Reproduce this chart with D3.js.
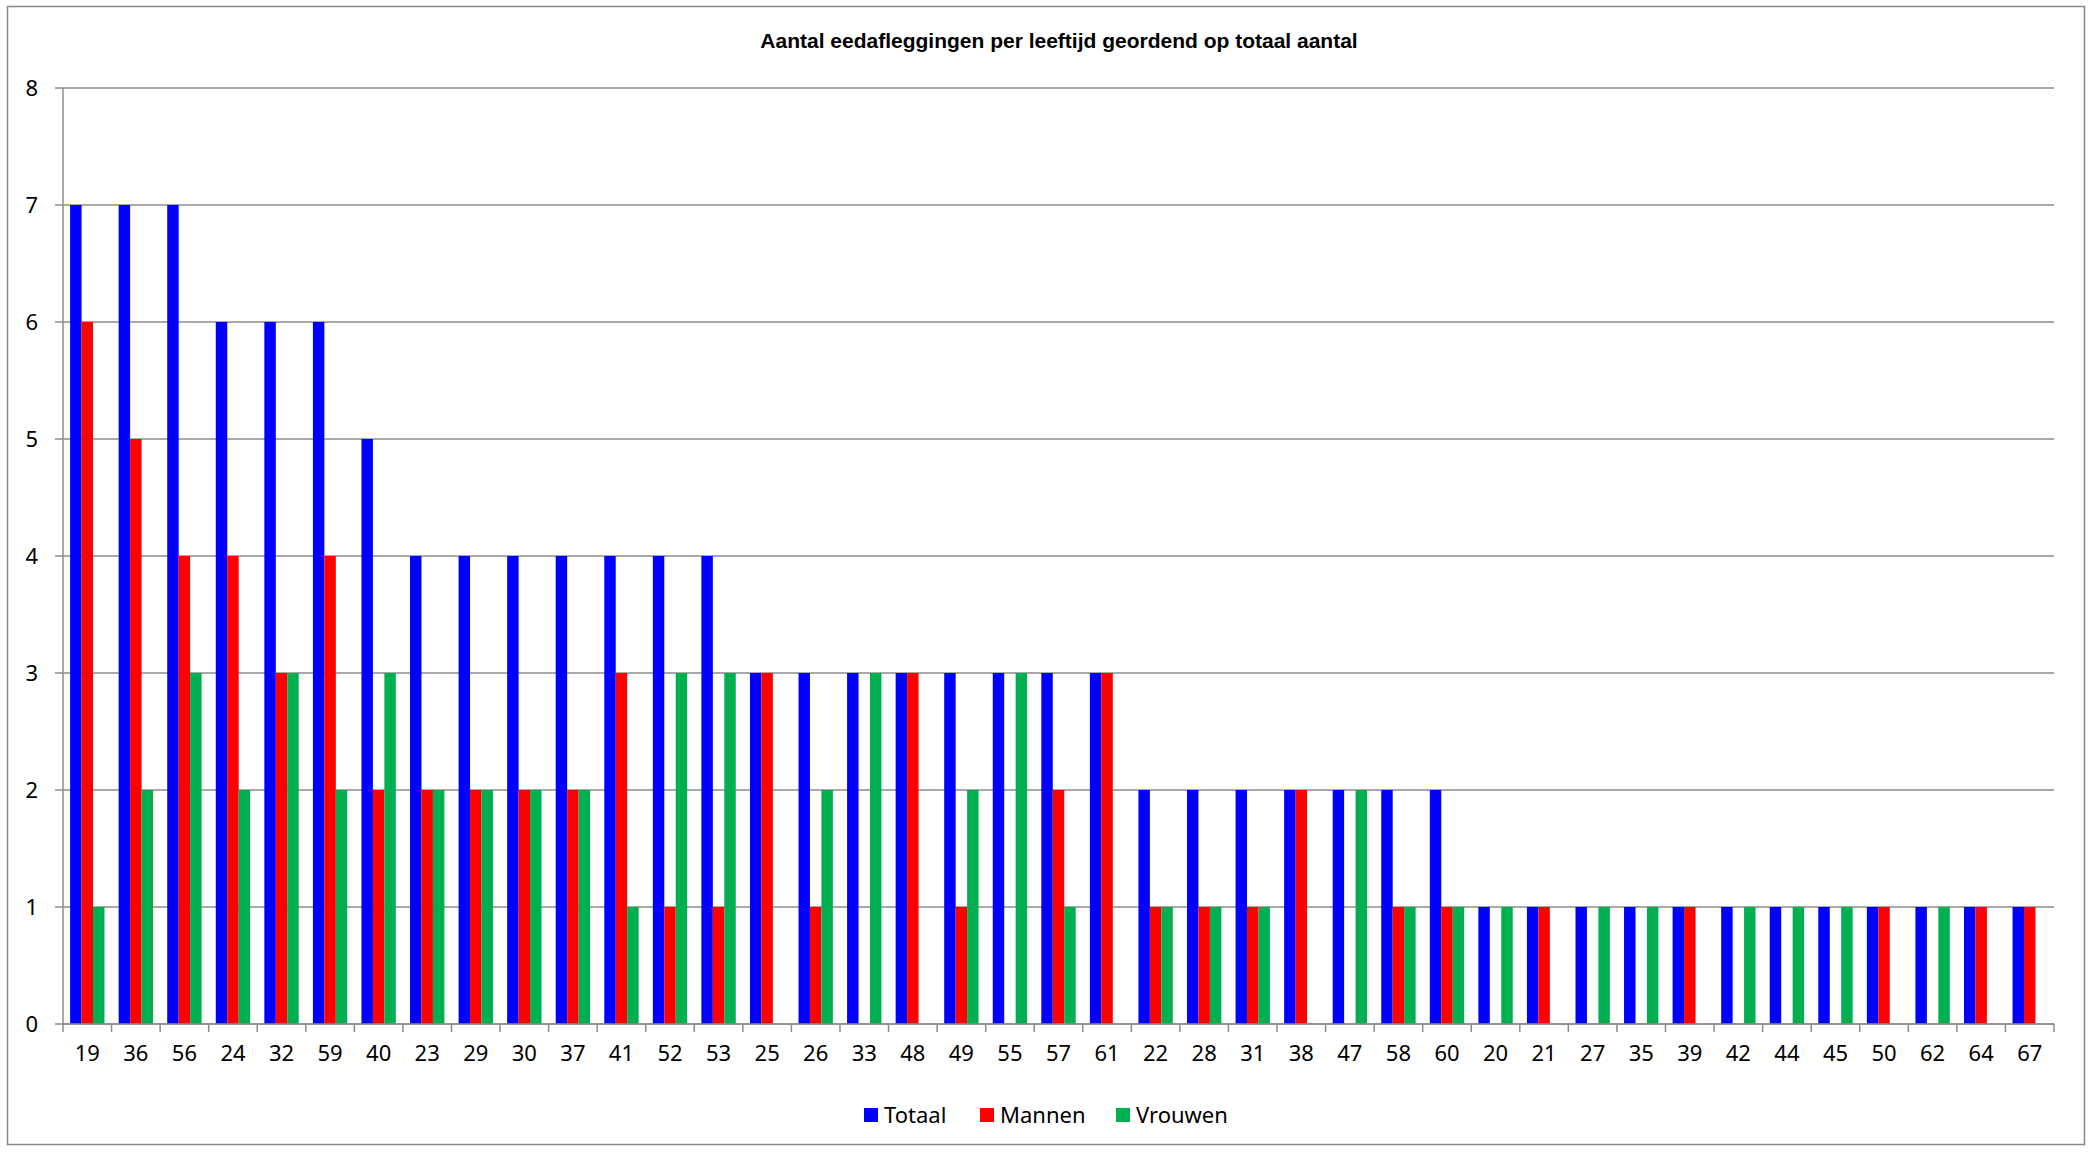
<!DOCTYPE html>
<html>
<head>
<meta charset="utf-8">
<script src="https://cdn.jsdelivr.net/npm/d3@7"></script>
<style>
  body { margin: 0; background: #fff; }
</style>
</head>
<body>
<div id="chart"></div>
<script>
const width = 2094;
const height = 1152;

// leeftijden, geordend op totaal
const ages = ["19","36","56","24","32","59","40","23","29","30","37","41","52","53","25","26","33","48","49","55","57","61","22","28","31","38","47","58","60","20","21","27","35","39","42","44","45","50","62","64","67"];
const totaal  = [7,7,7,6,6,6,5,4,4,4,4,4,4,4,3,3,3,3,3,3,3,3,2,2,2,2,2,2,2,1,1,1,1,1,1,1,1,1,1,1,1];
const mannen  = [6,5,4,4,3,4,2,2,2,2,2,3,1,1,3,1,0,3,1,0,2,3,1,1,1,2,0,1,1,0,1,0,0,1,0,0,0,1,0,1,1];
const vrouwen = [1,2,3,2,3,2,3,2,2,2,2,1,3,3,0,2,3,0,2,3,1,0,1,1,1,0,2,1,1,1,0,1,1,0,1,1,1,0,1,0,0];
const seriesNames = ["Totaal", "Mannen", "Vrouwen"];
const colors = ["#0000ff", "#ff0000", "#00b050"];
const yTicks = [0,1,2,3,4,5,6,7,8];

const margin = {left: 63, right: 40, top: 88, bottom: 128};

const svg = d3.select("#chart").append("svg")
  .attr("width", width)
  .attr("height", height);

// rand om de grafiek
svg.append("rect")
  .attr("x", 7.5).attr("y", 6.5)
  .attr("width", 2077).attr("height", 1138)
  .attr("fill", "none").attr("stroke", "#888").attr("stroke-width", 1.5);

const x = d3.scaleBand()
  .domain(ages)
  .range([margin.left, width - margin.right]);

const x1 = d3.scaleBand()
  .domain(seriesNames)
  .range([0, x.bandwidth()])
  .paddingOuter(0.62);

const y = d3.scaleLinear()
  .domain([0, 8])
  .range([height - margin.bottom, margin.top]);

// rasterlijnen
svg.append("g")
  .selectAll("line")
  .data(yTicks)
  .join("line")
  .attr("x1", margin.left - 8)
  .attr("x2", width - margin.right)
  .attr("y1", d => y(d))
  .attr("y2", d => y(d))
  .attr("stroke", "#8c8c8c")
  .attr("stroke-width", 1.5);

svg.append("g")
  .selectAll("text")
  .data(yTicks)
  .join("text")
  .attr("x", 38)
  .attr("y", d => y(d))
  .attr("dy", "0.35em")
  .attr("text-anchor", "end")
  .attr("font-family", "Noto Sans, sans-serif")
  .attr("font-size", 22)
  .text(d => d);

// balken
const series = [totaal, mannen, vrouwen];
const groups = svg.append("g")
  .selectAll("g")
  .data(ages)
  .join("g")
  .attr("transform", d => `translate(${x(d)},0)`);

groups.selectAll("rect")
  .data((d, i) => seriesNames.map((s, j) => ({s, v: series[j][i], c: colors[j]})))
  .join("rect")
  .attr("x", d => x1(d.s))
  .attr("width", x1.bandwidth())
  .attr("y", d => y(d.v))
  .attr("height", d => y(0) - y(d.v))
  .attr("fill", d => d.c);

// assen
svg.append("line")
  .attr("x1", margin.left).attr("x2", margin.left)
  .attr("y1", y(8)).attr("y2", y(0))
  .attr("stroke", "#8c8c8c").attr("stroke-width", 1.5);

const xAxis = svg.append("g");
xAxis.append("line")
  .attr("x1", margin.left).attr("x2", width - margin.right)
  .attr("y1", y(0)).attr("y2", y(0))
  .attr("stroke", "#8c8c8c").attr("stroke-width", 1.5);
xAxis.selectAll(".tick")
  .data(ages.concat(["end"]))
  .join("line")
  .attr("x1", (d, i) => margin.left + i * x.step())
  .attr("x2", (d, i) => margin.left + i * x.step())
  .attr("y1", y(0))
  .attr("y2", y(0) + 8)
  .attr("stroke", "#8c8c8c").attr("stroke-width", 1.5);
xAxis.selectAll("text")
  .data(ages)
  .join("text")
  .attr("x", d => x(d) + x.bandwidth() / 2)
  .attr("y", y(0) + 37)
  .attr("text-anchor", "middle")
  .attr("font-family", "Noto Sans, sans-serif")
  .attr("font-size", 22)
  .text(d => d);

// titel
svg.append("text")
  .attr("x", width / 2 + 12)
  .attr("y", 48)
  .attr("text-anchor", "middle")
  .attr("font-family", "Liberation Sans, Arial, sans-serif")
  .attr("font-weight", "bold")
  .attr("font-size", 21)
  .text("Aantal eedafleggingen per leeftijd geordend op totaal aantal");

// legenda
const legendX = [864, 980, 1116];
const legend = svg.append("g")
  .selectAll("g")
  .data(seriesNames)
  .join("g")
  .attr("transform", (d, i) => `translate(${legendX[i]},1108)`);
legend.append("rect")
  .attr("width", 14).attr("height", 14)
  .attr("fill", (d, i) => colors[i]);
legend.append("text")
  .attr("x", 20).attr("y", 7)
  .attr("dy", "0.35em")
  .attr("font-family", "Noto Sans, sans-serif")
  .attr("font-size", 22)
  .text(d => d);
</script>
</body>
</html>
